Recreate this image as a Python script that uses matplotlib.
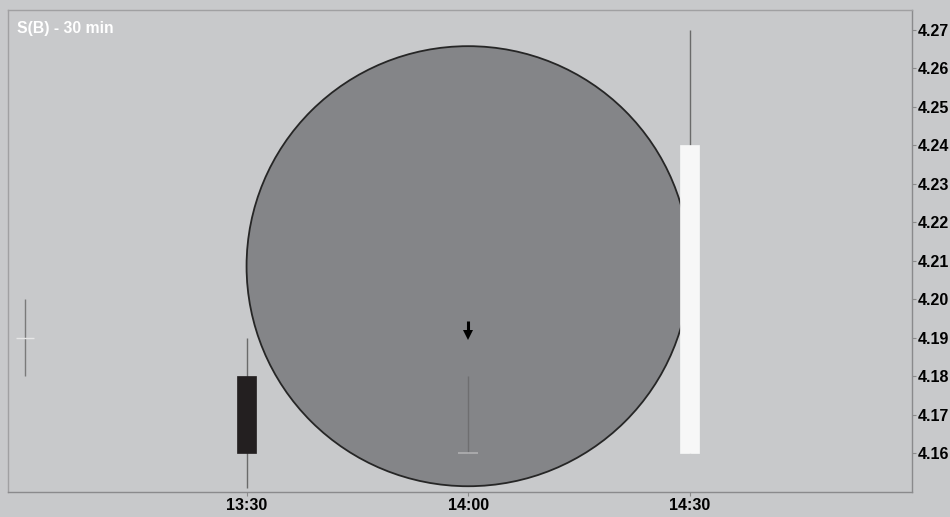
import matplotlib
matplotlib.use("Agg")
import matplotlib.pyplot as plt
from matplotlib.patches import Ellipse, Rectangle

# Data (minutes after 13:00)
times = [0, 30, 60, 90]
opens = [4.19, 4.18, 4.16, 4.16]
highs = [4.20, 4.19, 4.18, 4.27]
lows = [4.18, 4.151, 4.16, 4.16]
closes = [4.19, 4.16, 4.16, 4.24]
xtick_pos = [30, 60, 90]
xtick_labels = ["13:30", "14:00", "14:30"]
ytick_vals = [4.16, 4.17, 4.18, 4.19, 4.20, 4.21, 4.22, 4.23, 4.24, 4.25, 4.26, 4.27]
title = "S(B) - 30 min"

bg = "#c8c9cb"
fig = plt.figure(figsize=(9.5, 5.17), dpi=100, facecolor=bg)
ax = fig.add_axes([8/950, 25/517, (912-8)/950, (492-10)/517])
ax.set_facecolor(bg)
ax.set_xlim(-2.3, 120.1)
ax.set_ylim(4.1499, 4.2752)

# Circle annotation
circ = Ellipse((60, 4.2086), 60, 0.1144, facecolor="#848588", edgecolor="#262626",
               linewidth=1.3, zorder=1)
ax.add_patch(circ)

bw = 2.6
for i, (t, o, h, l, c) in enumerate(zip(times, opens, highs, lows, closes)):
    if i == 0:
        ax.vlines(t, l, h, color="#7a7a7a", linewidth=1.0, zorder=2)
        ax.hlines(o, t - 1.2, t + 1.2, color="#e6e6e6", linewidth=1.0, zorder=3)
    elif i == 2:
        ax.vlines(t, l, h, color="#6e6e70", linewidth=1.0, zorder=2)
        ax.hlines(o, t - 1.4, t + 1.4, color="#b0b0b2", linewidth=1.2, zorder=3)
    else:
        ax.vlines(t, l, h, color="#6a6a6a", linewidth=1.0, zorder=2)
        lo, hi = min(o, c), max(o, c)
        col = "#231f20" if c < o else "#f7f7f7"
        ax.add_patch(Rectangle((t - bw/2, lo), bw, hi - lo, facecolor=col,
                               edgecolor=col, linewidth=0.5, zorder=3))

# Down arrow
ax.plot([60, 60], [4.1944, 4.1912], color="black", linewidth=2.2,
        solid_capstyle="butt", zorder=5)
ax.plot([60], [4.1907], marker="v", markersize=7, color="black",
        markeredgewidth=0, zorder=5)

ax.text(0.0095, 0.977, title, transform=ax.transAxes, color="white",
        fontsize=11.3, fontweight="bold", ha="left", va="top", family="Liberation Sans")

ax.yaxis.tick_right()
ax.set_yticks(ytick_vals)
ax.set_yticklabels([f"{v:.2f}" for v in ytick_vals], fontsize=11.5, fontweight="bold",
                   family="Liberation Sans")
ax.set_xticks(xtick_pos)
ax.set_xticklabels(xtick_labels, fontsize=11.5, fontweight="bold", family="Liberation Sans")
ax.tick_params(axis="y", direction="out", length=3, color="#8a8a8a", pad=1)
ax.tick_params(axis="x", direction="out", length=3, color="#8a8a8a", pad=1.5)

for s in ["left", "top"]:
    ax.spines[s].set_color("#a0a0a2")
    ax.spines[s].set_linewidth(1.0)
for s in ["right", "bottom"]:
    ax.spines[s].set_color("#8a8a8c")
    ax.spines[s].set_linewidth(1.0)

fig.savefig("out.png", dpi=100, facecolor=bg)
